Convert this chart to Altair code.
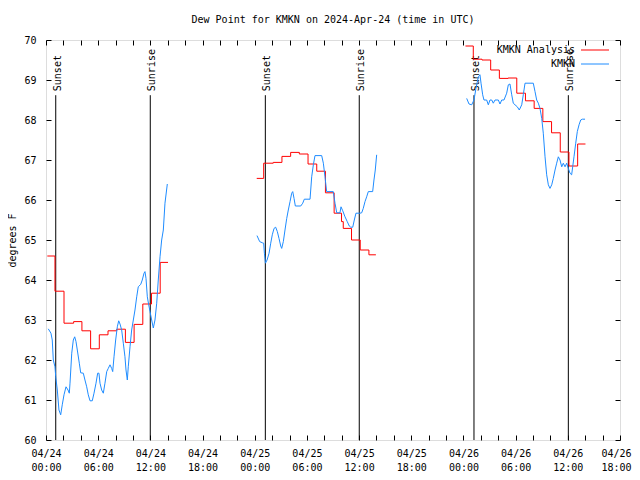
import altair as alt
import pandas as pd

# Hours since 2024-04-24 00:00 UTC; dew point in degrees F
# --- KMKN observations (three evening-to-morning segments) ---
obs1_t = [0.26, 0.57, 0.72, 0.84, 1.03, 1.12, 1.30, 1.49, 1.69, 1.87, 2.07, 2.30, 2.53, 2.68, 2.76,
          2.96, 3.14, 3.30, 3.45, 3.60, 3.83, 3.99, 4.29, 4.48, 4.68, 4.86, 5.06, 5.32, 5.52, 5.75,
          5.94, 6.09, 6.21, 6.40, 6.59, 6.78, 6.98, 7.16, 7.36, 7.55, 7.67, 7.82, 8.01, 8.20, 8.36,
          8.51, 8.70, 8.89, 9.08, 9.20, 9.35, 9.46, 9.66, 9.85, 10.04, 10.23, 10.43, 10.61, 10.89, 11.07,
          11.27, 11.38, 11.50, 11.65, 11.81, 11.96, 12.15, 12.34, 12.53, 12.73, 12.91, 13.11, 13.30, 13.49, 13.68,
          13.95]
obs1_v = [62.78, 62.67, 62.5, 62.0, 61.83, 61.58, 61.25, 60.75, 60.63, 60.88, 61.13, 61.33, 61.25, 61.17, 61.42,
          62.17, 62.5, 62.58, 62.46, 62.25, 61.92, 61.68, 61.67, 61.5, 61.33, 61.13, 60.98, 60.98, 61.17, 61.42,
          61.67, 61.67, 61.42, 61.25, 61.17, 61.42, 61.71, 61.79, 61.88, 61.79, 61.71, 62.08, 62.5, 62.83, 62.98,
          62.9, 62.75, 62.42, 62.08, 61.75, 61.5, 61.83, 62.33, 62.75, 63.0, 63.25, 63.58, 63.83, 63.89, 64.0,
          64.17, 64.21, 64.04, 63.58, 63.38, 63.21, 63.0, 62.8, 63.0, 63.42, 64.0, 64.58, 65.0, 65.25, 65.92,
          66.4]
obs2_t = [24.26, 24.57, 24.88, 25.03, 25.11, 25.23, 25.42, 25.65, 25.84, 26.02, 26.22, 26.41, 26.60, 26.79, 26.99,
          27.10, 27.29, 27.48, 27.68, 27.86, 28.06, 28.25, 28.37, 28.52, 28.67, 29.29, 29.52, 29.70, 30.36, 30.55,
          30.74, 30.93, 31.70, 31.89, 32.08, 32.27, 33.03, 33.23, 33.43, 33.80, 33.92, 34.12, 34.38, 34.64, 34.87,
          35.04, 35.27, 35.45, 35.64, 36.10, 36.30, 36.48, 36.68, 36.87, 37.06, 37.56, 37.71, 37.86, 38.02]
obs2_v = [65.11, 64.96, 64.93, 64.92, 64.67, 64.42, 64.5, 64.67, 64.92, 65.13, 65.29, 65.32, 65.21, 65.04, 64.85,
          64.79, 64.96, 65.25, 65.54, 65.75, 65.96, 66.17, 66.21, 66.04, 65.85, 65.85, 65.92, 66.02, 66.02, 66.58,
          66.88, 67.11, 67.11, 66.92, 66.58, 66.21, 66.21, 65.92, 65.68, 65.68, 65.83, 65.73, 65.58, 65.46, 65.35,
          65.32, 65.32, 65.5, 65.67, 65.67, 65.68, 65.79, 65.96, 66.08, 66.21, 66.21, 66.5, 66.75, 67.13]
obs3_t = [48.37, 48.64, 48.95, 49.21, 49.44, 49.71, 49.90, 50.02, 50.21, 50.36, 50.67, 50.86, 51.05, 51.25, 51.43,
          51.63, 52.01, 52.20, 52.40, 52.66, 52.97, 53.16, 53.35, 53.55, 53.73, 53.93, 54.19, 54.42, 54.70, 54.88,
          55.08, 56.03, 56.23, 56.42, 56.61, 56.80, 57.00, 57.18, 57.38, 57.57, 57.76, 57.95, 58.15, 58.33, 58.53,
          58.72, 58.91, 59.10, 59.30, 59.48, 59.68, 59.87, 60.06, 60.25, 60.44, 60.56, 60.71, 60.91, 61.09, 61.29,
          61.48, 61.67, 61.98]
obs3_v = [68.54, 68.4, 68.38, 68.5, 68.79, 69.08, 69.13, 68.92, 68.63, 68.5, 68.5, 68.38, 68.5, 68.5, 68.42,
          68.5, 68.5, 68.4, 68.5, 68.5, 68.67, 68.88, 68.9, 68.63, 68.42, 68.38, 68.33, 68.25, 68.38, 68.63,
          68.92, 68.92, 68.71, 68.5, 68.42, 68.29, 68.04, 67.67, 67.08, 66.63, 66.38, 66.29, 66.38, 66.54, 66.75,
          66.92, 67.08, 67.0, 66.83, 66.92, 66.83, 66.92, 66.79, 66.67, 66.63, 66.83, 67.08, 67.42, 67.71, 67.88,
          68.0, 68.02, 68.02]

# --- KMKN analysis (hourly steps) ---
ana1_t = [0.15, 1.03, 2.07, 3.18, 4.13, 5.13, 6.13, 7.13, 8.13, 9.13, 10.13, 11.13, 12.13, 13.13, 14.03]
ana1_v = [64.6, 63.72, 62.92, 62.96, 62.73, 62.28, 62.63, 62.73, 62.77, 62.44, 62.89, 63.4, 63.67, 64.44, 64.44]
ana2_t = [24.23, 25.03, 26.13, 27.13, 28.13, 29.13, 30.13, 31.13, 32.13, 33.13, 33.98, 34.18, 35.13, 36.13,
          37.13, 37.93]
ana2_v = [66.54, 66.92, 66.94, 67.09, 67.19, 67.15, 66.9, 66.72, 66.18, 65.67, 65.46, 65.29, 65.0, 64.75,
          64.63, 64.63]
ana3_t = [48.23, 49.13, 50.13, 51.13, 52.13, 53.13, 54.13, 55.13, 56.13, 57.13, 58.13, 59.13, 60.13, 61.13, 62.03]
ana3_v = [69.85, 69.52, 69.5, 69.25, 69.04, 69.05, 68.67, 68.48, 68.29, 67.96, 67.68, 67.2, 66.85, 67.4, 67.4]

# --- sunset / sunrise ---
event_t = [1.12, 11.99, 25.22, 36.02, 49.21, 60.06]
event_label = ["Sunset", "Sunrise", "Sunset", "Sunrise", "Sunset", "Sunrise"]

FONT = "DejaVu Sans Mono"


def frame(ts, vs, seg, series):
    return pd.DataFrame({"t": ts, "v": vs, "seg": seg, "series": series})


obs = pd.concat([frame(obs1_t, obs1_v, 1, "KMKN"), frame(obs2_t, obs2_v, 2, "KMKN"),
                 frame(obs3_t, obs3_v, 3, "KMKN")], ignore_index=True)
ana = pd.concat([frame(ana1_t, ana1_v, 1, "KMKN Analysis"), frame(ana2_t, ana2_v, 2, "KMKN Analysis"),
                 frame(ana3_t, ana3_v, 3, "KMKN Analysis")], ignore_index=True)
events = pd.DataFrame({"t": event_t, "label": event_label})

x_scale = alt.Scale(domain=[0, 66], nice=False, zero=False)
y_scale = alt.Scale(domain=[60, 70], nice=False, zero=False)
color_scale = alt.Scale(domain=["KMKN Analysis", "KMKN"], range=["#ff0000", "#1e8cff"])

x_vals = list(range(0, 67, 2))
y_vals = list(range(60, 71))
label_expr = ("datum.value % 6 == 0 ? ['04/' + (24 + floor(datum.value / 24)), "
              "(datum.value % 24 < 10 ? '0' : '') + (datum.value % 24) + ':00'] : ''")

x_bottom = alt.Axis(orient="bottom", values=x_vals, labelExpr=label_expr, offset=-5, tickSize=5,
                    domain=False, grid=False, labelPadding=8, labelFont=FONT, labelFontSize=10,
                    labelColor="black", tickColor="black", labelFlush=False, labelOverlap=False,
                    labelLineHeight=14, labelBound=False, title=None,
                    labelOffset={"condition": {"test": "datum.value == 66", "value": -4}, "value": 0})
x_top = alt.Axis(orient="top", values=x_vals, labels=False, offset=-5, tickSize=5, domain=False,
                 grid=False, tickColor="black", title=None)
y_left = alt.Axis(orient="left", values=y_vals, offset=-5, tickSize=5, domain=False, grid=False,
                  labelPadding=10, labelFont=FONT, labelFontSize=10, labelColor="black", tickColor="black",
                  title="degrees F", titleFont=FONT, titleFontSize=10, titleFontWeight="normal",
                  titleColor="black", titlePadding=6)
y_right = alt.Axis(orient="right", values=y_vals, labels=False, offset=-5, tickSize=5, domain=False,
                   grid=False, tickColor="black", title=None)

legend = alt.Legend(orient="none", legendX=544, legendY=5, title=None, symbolType="M-10,0H10",
                    symbolSize=7.84, symbolStrokeWidth=1, labelAlign="right", labelOffset={"expr": "-25"},
                    labelFont=FONT, labelFontSize=10, labelColor="black", rowPadding=4, labelLimit=300)

rules = alt.Chart(events).mark_rule(color="black", strokeWidth=1).encode(
    x=alt.X("t:Q", scale=x_scale, axis=None),
    y=alt.YDatum(60, scale=y_scale, axis=None),
    y2=alt.Y2Datum(68.62),
)
texts = alt.Chart(events).mark_text(angle=270, align="left", baseline="middle", font=FONT,
                                    fontSize=10, color="black", dy=2).encode(
    x=alt.X("t:Q", scale=x_scale, axis=None),
    y=alt.YDatum(68.72, scale=y_scale, axis=None),
    text="label:N",
)
analysis = alt.Chart(ana).mark_line(interpolate="step-after", strokeWidth=1).encode(
    x=alt.X("t:Q", scale=x_scale, axis=x_bottom),
    y=alt.Y("v:Q", scale=y_scale, axis=y_left),
    color=alt.Color("series:N", scale=color_scale, legend=legend),
    detail="seg:N",
)
observed = alt.Chart(obs).mark_line(strokeWidth=1).encode(
    x=alt.X("t:Q", scale=x_scale, axis=x_top),
    y=alt.Y("v:Q", scale=y_scale, axis=y_right),
    color=alt.Color("series:N", scale=color_scale, legend=legend),
    detail="seg:N",
)

chart = alt.layer(rules, texts, analysis, observed).resolve_axis(
    x="independent", y="independent"
).properties(
    width=574,
    height=400,
    title=alt.TitleParams("Dew Point for KMKN on 2024-Apr-24 (time in UTC)", font=FONT, fontSize=10,
                          fontWeight="normal", anchor="middle", offset=10, color="black"),
    autosize=alt.AutoSizeParams(type="none"),
    padding={"left": 38, "top": 32, "right": 12, "bottom": 32},
).configure_view(stroke="black", strokeWidth=1).configure(background="white")

chart.save("out.html", embed_options={"renderer": "svg", "actions": False})
